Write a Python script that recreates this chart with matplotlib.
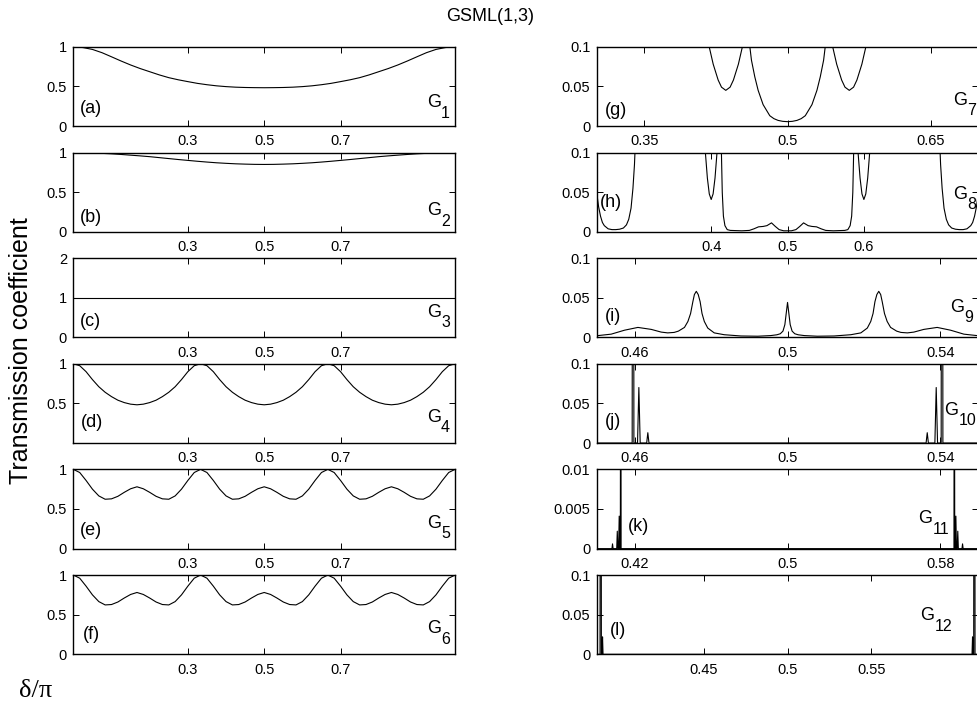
import numpy as np
import matplotlib
matplotlib.use("Agg")
import matplotlib.pyplot as plt

plt.rcParams['font.family'] = ['Liberation Sans', 'DejaVu Sans']

# ---- left column: delta/pi from 0 to 1 ----
delta_a = [0.0, 0.025, 0.05, 0.075, 0.1, 0.125, 0.15, 0.175, 0.2, 0.225, 0.25,
           0.275, 0.3, 0.325, 0.35, 0.375, 0.4, 0.425, 0.45, 0.475, 0.5,
           0.525, 0.55, 0.575, 0.6, 0.625, 0.65, 0.675, 0.7, 0.725, 0.75,
           0.775, 0.8, 0.825, 0.85, 0.875, 0.9, 0.925, 0.95, 0.975, 1.0]
G1 = [1.0, 0.99, 0.966, 0.925, 0.873, 0.82, 0.77, 0.725, 0.685, 0.645, 0.61,
      0.583, 0.56, 0.538, 0.521, 0.507, 0.497, 0.49, 0.486, 0.484, 0.483,
      0.484, 0.486, 0.49, 0.497, 0.507, 0.521, 0.538, 0.56, 0.583, 0.61,
      0.645, 0.685, 0.725, 0.77, 0.82, 0.873, 0.925, 0.966, 0.99, 1.0]
G2 = [1.0, 0.999, 0.996, 0.992, 0.986, 0.978, 0.969, 0.96, 0.95, 0.938, 0.926,
      0.914, 0.903, 0.892, 0.882, 0.873, 0.866, 0.86, 0.856, 0.853, 0.852,
      0.853, 0.856, 0.86, 0.866, 0.873, 0.882, 0.892, 0.903, 0.914, 0.926,
      0.938, 0.95, 0.96, 0.969, 0.978, 0.986, 0.992, 0.996, 0.999, 1.0]
delta_c = [0.0, 0.25, 0.5, 0.75, 1.0]
G3 = [1.0, 1.0, 1.0, 1.0, 1.0]

delta_d = [0.0, 0.0167, 0.0333, 0.05, 0.0667, 0.0833, 0.1, 0.1167, 0.1333, 0.15,
           0.1667, 0.1833, 0.2, 0.2167, 0.2333, 0.25, 0.2667, 0.2833, 0.3, 0.3167,
           0.3333, 0.35, 0.3667, 0.3833, 0.4, 0.4167, 0.4333, 0.45, 0.4667, 0.4833,
           0.5, 0.5167, 0.5333, 0.55, 0.5667, 0.5833, 0.6, 0.6167, 0.6333, 0.65,
           0.6667, 0.6833, 0.7, 0.7167, 0.7333, 0.75, 0.7667, 0.7833, 0.8, 0.8167,
           0.8333, 0.85, 0.8667, 0.8833, 0.9, 0.9167, 0.9333, 0.95, 0.9667, 0.9833,
           1.0]
G4 = [1.0, 0.975, 0.9, 0.8, 0.71, 0.64, 0.585, 0.54, 0.51, 0.49,
      0.482, 0.49, 0.51, 0.54, 0.585, 0.64, 0.71, 0.8, 0.9, 0.975,
      1.0, 0.975, 0.9, 0.8, 0.71, 0.64, 0.585, 0.54, 0.51, 0.49,
      0.482, 0.49, 0.51, 0.54, 0.585, 0.64, 0.71, 0.8, 0.9, 0.975,
      1.0, 0.975, 0.9, 0.8, 0.71, 0.64, 0.585, 0.54, 0.51, 0.49,
      0.482, 0.49, 0.51, 0.54, 0.585, 0.64, 0.71, 0.8, 0.9, 0.975,
      1.0]
G5 = [1.0, 0.96, 0.86, 0.75, 0.665, 0.623, 0.628, 0.66, 0.71, 0.755,
      0.78, 0.755, 0.71, 0.66, 0.628, 0.623, 0.665, 0.75, 0.86, 0.96,
      1.0, 0.96, 0.86, 0.75, 0.665, 0.623, 0.628, 0.66, 0.71, 0.755,
      0.78, 0.755, 0.71, 0.66, 0.628, 0.623, 0.665, 0.75, 0.86, 0.96,
      1.0, 0.96, 0.86, 0.75, 0.665, 0.623, 0.628, 0.66, 0.71, 0.755,
      0.78, 0.755, 0.71, 0.66, 0.628, 0.623, 0.665, 0.75, 0.86, 0.96,
      1.0]
G6 = [1.0, 0.96, 0.86, 0.75, 0.665, 0.623, 0.628, 0.66, 0.71, 0.755,
      0.78, 0.755, 0.71, 0.66, 0.628, 0.623, 0.665, 0.75, 0.86, 0.96,
      1.0, 0.96, 0.86, 0.75, 0.665, 0.623, 0.628, 0.66, 0.71, 0.755,
      0.78, 0.755, 0.71, 0.66, 0.628, 0.623, 0.665, 0.75, 0.86, 0.96,
      1.0, 0.96, 0.86, 0.75, 0.665, 0.623, 0.628, 0.66, 0.71, 0.755,
      0.78, 0.755, 0.71, 0.66, 0.628, 0.623, 0.665, 0.75, 0.86, 0.96,
      1.0]

# ---- right column: zoomed windows around delta/pi = 0.5 ----
delta_g = [0.300, 0.410, 0.4145, 0.4179, 0.4221, 0.4273, 0.4308, 0.4353, 0.4398,
           0.4433, 0.4485, 0.4527, 0.4565, 0.4605, 0.4622, 0.4657, 0.4692, 0.4744,
           0.4814, 0.4857, 0.4901, 0.4950, 0.5000, 0.5050, 0.5099, 0.5143, 0.5186,
           0.5256, 0.5308, 0.5343, 0.5378, 0.5395, 0.5435, 0.5473, 0.5515, 0.5567,
           0.5602, 0.5647, 0.5692, 0.5727, 0.5779, 0.5821, 0.5855, 0.590, 0.700]
G7 = [0.6, 0.3, 0.16, 0.1, 0.078, 0.058, 0.049, 0.045, 0.049,
      0.058, 0.078, 0.1, 0.16, 0.1, 0.083, 0.062, 0.045, 0.027,
      0.013, 0.0093, 0.0071, 0.0059, 0.0055, 0.0059, 0.0071, 0.0093, 0.013,
      0.027, 0.045, 0.062, 0.083, 0.1, 0.16, 0.1, 0.078, 0.058,
      0.049, 0.045, 0.049, 0.058, 0.078, 0.1, 0.16, 0.3, 0.6]

delta_h = [0.250, 0.2525, 0.255, 0.2575, 0.260, 0.265, 0.270, 0.275, 0.280, 0.285,
           0.289, 0.292, 0.295, 0.2975, 0.2995, 0.301, 0.303,
           0.390, 0.3924, 0.395, 0.3975, 0.400, 0.4025, 0.405, 0.4076, 0.410,
           0.4125, 0.4134, 0.4145, 0.416, 0.418, 0.421, 0.425, 0.440, 0.450, 0.456,
           0.462, 0.468, 0.473, 0.479, 0.484, 0.489, 0.495, 0.500,
           0.505, 0.511, 0.516, 0.521, 0.527, 0.532, 0.538, 0.544, 0.550, 0.560,
           0.575, 0.579, 0.582, 0.584, 0.5855, 0.5866, 0.5875,
           0.590, 0.5924, 0.595, 0.5975, 0.600, 0.6025, 0.605, 0.6076, 0.610,
           0.697, 0.699, 0.7005, 0.7025, 0.705, 0.708, 0.711, 0.715, 0.720, 0.725,
           0.730, 0.735, 0.740, 0.7425, 0.745, 0.7475, 0.750]
G8 = [0.05, 0.032, 0.02, 0.012, 0.008, 0.004, 0.003, 0.003, 0.0035, 0.005,
      0.009, 0.016, 0.03, 0.055, 0.085, 0.12, 0.3,
      0.3, 0.1, 0.068, 0.048, 0.041, 0.048, 0.068, 0.1, 0.3,
      0.2, 0.1, 0.05, 0.02, 0.008, 0.003, 0.002, 0.0015, 0.002, 0.004,
      0.0065, 0.007, 0.008, 0.0115, 0.007, 0.003, 0.0015, 0.0015,
      0.0015, 0.003, 0.007, 0.0115, 0.008, 0.007, 0.0065, 0.004, 0.002, 0.0015,
      0.002, 0.003, 0.008, 0.02, 0.05, 0.1, 0.2,
      0.3, 0.1, 0.068, 0.048, 0.041, 0.048, 0.068, 0.1, 0.3,
      0.3, 0.12, 0.085, 0.055, 0.03, 0.016, 0.009, 0.005, 0.0035, 0.003,
      0.003, 0.004, 0.008, 0.012, 0.02, 0.032, 0.05]

delta_i = [0.450, 0.4538, 0.4573, 0.4608, 0.4643, 0.4669, 0.4686, 0.4703, 0.4714,
           0.4730, 0.4739, 0.4746, 0.4752, 0.4756, 0.4761, 0.4766, 0.4771, 0.4776,
           0.4782, 0.4791, 0.4808, 0.4834, 0.4878, 0.4922, 0.4956, 0.4972, 0.4981,
           0.4988, 0.4993, 0.4996, 0.5000,
           0.5004, 0.5007, 0.5012, 0.5019, 0.5028, 0.5044, 0.5078, 0.5122, 0.5166,
           0.5192, 0.5209, 0.5218, 0.5224, 0.5229, 0.5234, 0.5239, 0.5244, 0.5248,
           0.5254, 0.5261, 0.5270, 0.5286, 0.5297, 0.5314, 0.5331, 0.5357, 0.5392,
           0.5427, 0.5462, 0.550]
G9 = [0.002, 0.004, 0.009, 0.0125, 0.01, 0.0066, 0.0056, 0.0062, 0.0078,
      0.0125, 0.02, 0.03, 0.045, 0.054, 0.058, 0.054, 0.045, 0.03,
      0.02, 0.0117, 0.0056, 0.0033, 0.0017, 0.0014, 0.0022, 0.0032, 0.0045,
      0.0078, 0.016, 0.028, 0.044,
      0.028, 0.016, 0.0078, 0.0045, 0.0032, 0.0022, 0.0014, 0.0017, 0.0033,
      0.0056, 0.0117, 0.02, 0.03, 0.045, 0.054, 0.058, 0.054, 0.045,
      0.03, 0.02, 0.0125, 0.0078, 0.0062, 0.0056, 0.0066, 0.01, 0.0125,
      0.009, 0.004, 0.002]

delta_j = [0.450, 0.4593, 0.4594, 0.45952, 0.45964, 0.45975, 0.4607, 0.46105, 0.4614,
           0.4631, 0.4634, 0.4637, 0.500, 0.5363, 0.5366, 0.5369, 0.5386, 0.53895,
           0.5393, 0.54025, 0.54036, 0.54048, 0.5406, 0.5407, 0.550]
G10 = [0.0, 0.0, 0.6, 0.3, 0.6, 0.0, 0.0, 0.07, 0.0,
       0.0, 0.013, 0.0, 0.0, 0.0, 0.013, 0.0, 0.0, 0.07,
       0.0, 0.0, 0.6, 0.3, 0.6, 0.0, 0.0]

delta_k = [0.400, 0.4080, 0.4083, 0.4086, 0.4105, 0.4108, 0.4111, 0.4115, 0.4118,
           0.4121, 0.4124, 0.4126, 0.4128, 0.500, 0.5872, 0.5874, 0.5876, 0.5879,
           0.5882, 0.5885, 0.5889, 0.5892, 0.5895, 0.5914, 0.5917, 0.5920, 0.600]
G11 = [0.0, 0.0, 0.0006, 0.0, 0.0, 0.0022, 0.0, 0.0, 0.0041,
       0.0, 0.0, 0.05, 0.0, 0.0, 0.0, 0.05, 0.0, 0.0,
       0.0041, 0.0, 0.0, 0.0022, 0.0, 0.0, 0.0006, 0.0, 0.0]

delta_l = [0.3860, 0.3862, 0.3864, 0.3880, 0.3882, 0.3884, 0.3886, 0.3888, 0.3892,
           0.3895, 0.3898, 0.500, 0.6102, 0.6105, 0.6108, 0.6112, 0.6114, 0.6116,
           0.6118, 0.6120, 0.6136, 0.6138, 0.6140]
G12 = [0.0, 0.03, 0.0, 0.0, 0.6, 0.3, 0.6, 0.0, 0.0,
       0.022, 0.0, 0.0, 0.0, 0.022, 0.0, 0.0, 0.6, 0.3,
       0.6, 0.0, 0.0, 0.03, 0.0]

# tick values / labels
left_xticks = [0.3, 0.5, 0.7]
yt_unit = [0, 0.5, 1]
yt_small = [0, 0.05, 0.1]

# (x, y, xlim, xticks, ylim, yticks, yticklabels, letter, letter_xy, G index, G_xy)
left_panels = [
    (delta_a, G1, (0, 1), left_xticks, (0, 1), yt_unit, ['0', '0.5', '1'], '(a)', (0.016, 0.16), '1', (0.926, 0.235)),
    (delta_a, G2, (0, 1), left_xticks, (0, 1), yt_unit, ['0', '0.5', '1'], '(b)', (0.016, 0.13), '2', (0.926, 0.21)),
    (delta_c, G3, (0, 1), left_xticks, (0, 2), [0, 1, 2], ['0', '1', '2'], '(c)', (0.016, 0.14), '3', (0.926, 0.26)),
    (delta_d, G4, (0, 1), left_xticks, (0, 1), [0.5, 1], ['0.5', '1'], '(d)', (0.02, 0.2), '4', (0.926, 0.27)),
    (delta_d, G5, (0, 1), left_xticks, (0, 1), yt_unit, ['0', '0.5', '1'], '(e)', (0.016, 0.175), '5', (0.926, 0.26)),
    (delta_d, G6, (0, 1), left_xticks, (0, 1), yt_unit, ['0', '0.5', '1'], '(f)', (0.026, 0.19), '6', (0.926, 0.265)),
]
right_panels = [
    (delta_g, G7, (0.3, 0.7), [0.35, 0.5, 0.65], (0, 0.1), yt_small, ['0', '0.05', '0.1'], '(g)', (0.022, 0.14), '7', (0.934, 0.265)),
    (delta_h, G8, (0.25, 0.75), [0.4, 0.5, 0.6], (0, 0.1), yt_small, ['0', '0.05', '0.1'], '(h)', (0.009, 0.32), '8', (0.934, 0.42)),
    (delta_i, G9, (0.45, 0.55), [0.46, 0.5, 0.54], (0, 0.1), yt_small, ['0', '0.05', '0.1'], '(i)', (0.022, 0.2), '9', (0.926, 0.325)),
    (delta_j, G10, (0.45, 0.55), [0.46, 0.5, 0.54], (0, 0.1), yt_small, ['0', '0.05', '0.1'], '(j)', (0.022, 0.21), '10', (0.91, 0.355)),
    (delta_k, G11, (0.4, 0.6), [0.42, 0.5, 0.58], (0, 0.01), [0, 0.005, 0.01], ['0', '0.005', '0.01'], '(k)', (0.083, 0.22), '11', (0.843, 0.32)),
    (delta_l, G12, (0.386, 0.614), [0.45, 0.5, 0.55], (0, 0.1), yt_small, ['0', '0.05', '0.1'], '(l)', (0.035, 0.24), '12', (0.848, 0.43)),
]

fig = plt.figure(figsize=(9.78, 7.06), dpi=100)
row_bottoms = [0.8215, 0.6714, 0.5222, 0.3725, 0.2229, 0.0732]
panel_h = 0.1123
col_left = [0.075, 0.6101]
panel_w = 0.3903


def draw_panel(ax, p):
    x, y, xl, xt, yl, yt, ytl, letter, lxy, g, gxy = p
    ax.plot(x, y, color='black', lw=0.8)
    ax.set_xlim(*xl)
    ax.set_ylim(*yl)
    ax.set_xticks(xt)
    ax.set_xticklabels([('%g' % v) for v in xt])
    ax.set_yticks(yt)
    ax.set_yticklabels(ytl)
    ax.tick_params(direction='in', top=True, right=True, length=4, width=0.7,
                   labelsize=10.5)
    ax.tick_params(axis='x', pad=6)
    ax.tick_params(axis='y', pad=4.5)
    for s in ax.spines.values():
        s.set_linewidth(1.0)
    ax.text(lxy[0], lxy[1], letter, transform=ax.transAxes, fontsize=13,
            ha='left', va='baseline')
    # G with a lowered, full-size index as in the original figure
    ax.text(gxy[0], gxy[1], 'G', transform=ax.transAxes, fontsize=13,
            ha='left', va='baseline')
    ax.annotate(g, xy=gxy, xycoords='axes fraction', xytext=(10.3, -7.5),
                textcoords='offset points', fontsize=11.5, ha='left',
                va='baseline')


for i, p in enumerate(left_panels):
    ax = fig.add_axes([col_left[0], row_bottoms[i], panel_w, panel_h])
    draw_panel(ax, p)
for i, p in enumerate(right_panels):
    ax = fig.add_axes([col_left[1], row_bottoms[i], panel_w, panel_h])
    draw_panel(ax, p)

fig.text(0.501, 0.976, 'GSML(1,3)', ha='center', va='center', fontsize=13)
fig.text(0.021, 0.503, 'Transmission coefficient', rotation=90,
         ha='center', va='center', fontsize=18)
fig.text(0.036, 0.021, 'δ/π', ha='center', va='center', fontsize=19,
         family=['Liberation Serif', 'DejaVu Serif'])

fig.savefig('out.png', dpi=100)
